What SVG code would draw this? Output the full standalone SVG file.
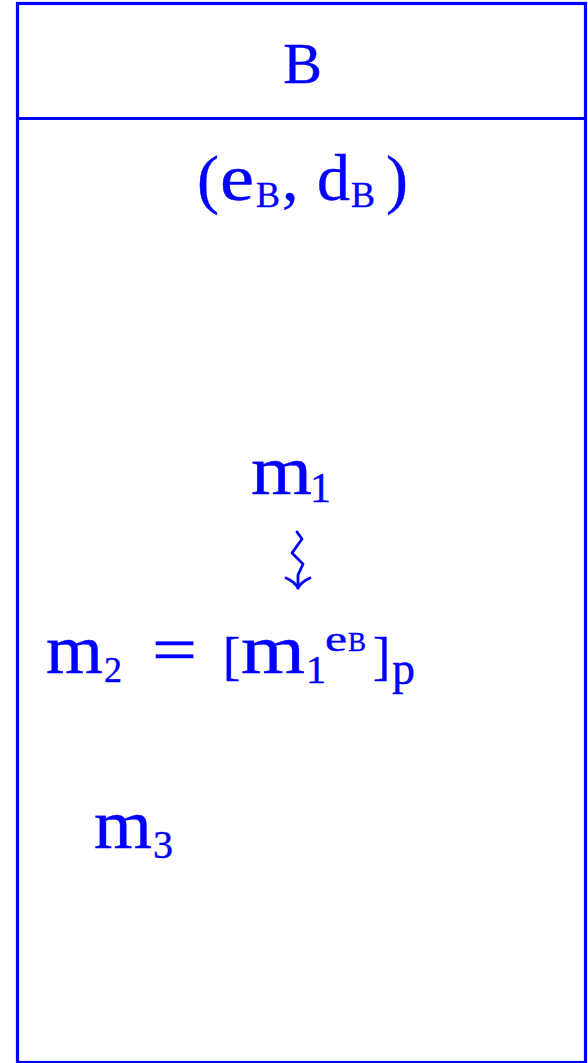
<svg xmlns="http://www.w3.org/2000/svg" width="588" height="1063" viewBox="0 0 588 1063">
<style>
.frame{fill:none;stroke:#0000ff;stroke-width:3.2}
.t{fill:#0000ff;stroke:#0000ff;stroke-width:0.4;font-family:"Liberation Serif","Times New Roman",serif}
.conn{fill:none;stroke:#0000ff;stroke-width:2.8;stroke-linecap:round;stroke-linejoin:round}
</style>
<rect width="588" height="1063" fill="#ffffff"/>
<g id="node-B">
<rect class="frame" x="17.5" y="3.5" width="568" height="1059"/>
<line class="frame" x1="17.5" y1="118.5" x2="585.5" y2="118.5"/>
<text class="t" x="302.5" y="83" font-size="58" text-anchor="middle">B</text>
</g>
<g id="keys">
<text class="t" x="197" y="201" font-size="66">(</text>
<text class="t" x="220" y="200" font-size="66" textLength="34" lengthAdjust="spacingAndGlyphs">e</text>
<text class="t" x="256" y="207" font-size="36">B</text>
<text class="t" x="282" y="200" font-size="66">,</text>
<text class="t" x="317" y="200" font-size="66">d</text>
<text class="t" x="351" y="207" font-size="36">B</text>
<text class="t" x="386" y="201" font-size="66">)</text>
</g>
<g id="m1">
<text class="t" x="251" y="494" font-size="70" textLength="61" lengthAdjust="spacingAndGlyphs">m</text>
<text class="t" x="310" y="502" font-size="42">1</text>
</g>
<g id="m2">
<text class="t" x="46" y="673" font-size="70" textLength="57" lengthAdjust="spacingAndGlyphs">m</text>
<text class="t" x="104" y="682" font-size="36">2</text>
<text class="t" x="152" y="672" font-size="66" textLength="45" lengthAdjust="spacingAndGlyphs">=</text>
<text class="t" x="223" y="674" font-size="52">[</text>
<text class="t" x="241" y="673" font-size="70" textLength="64" lengthAdjust="spacingAndGlyphs">m</text>
<text class="t" x="306" y="683" font-size="40">1</text>
<text class="t" x="325" y="651" font-size="36" textLength="22" lengthAdjust="spacingAndGlyphs">e</text>
<text class="t" x="348" y="651" font-size="27">B</text>
<text class="t" x="373" y="674" font-size="52">]</text>
<text class="t" x="392" y="684" font-size="46">p</text>
</g>
<g id="m3">
<text class="t" x="94" y="848" font-size="70" textLength="58" lengthAdjust="spacingAndGlyphs">m</text>
<text class="t" x="153" y="858" font-size="40">3</text>
</g>
<g id="connectors">
<path class="conn" d="M297,532 L302,539 L292,553 L303,564 L298,575 L298,588"/>
<path class="conn" d="M286,578 Q295,582 298,588 Q301,582 310,578"/>
</g>
</svg>
